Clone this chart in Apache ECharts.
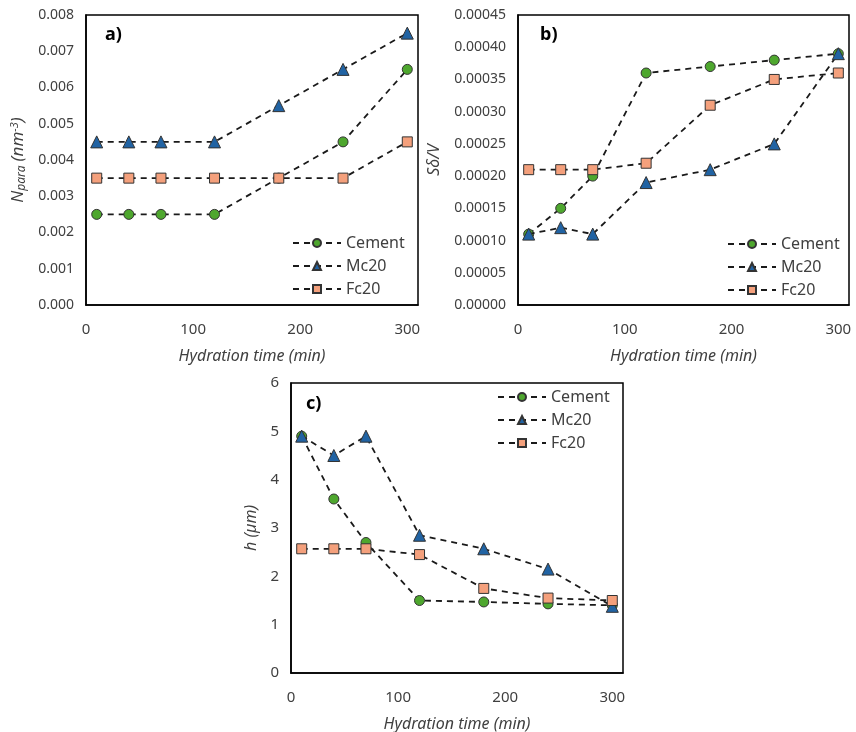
<!DOCTYPE html>
<html lang="en">
<head>
<meta charset="UTF-8">
<title>Hydration charts</title>
<script src="https://cdn.jsdelivr.net/npm/echarts@6/dist/echarts.min.js"></script>
<style>
  html, body { margin: 0; padding: 0; background: #fff; }
  #chart { width: 856px; height: 732px; }
</style>
</head>
<body>
<div id="chart"></div>
<script>
var times = [10, 40, 70, 120, 180, 240, 300];

// a) N_para
var aCement = [0.0025, 0.0025, 0.0025, 0.0025, 0.0035, 0.0045, 0.0065];
var aMc20 = [0.0045, 0.0045, 0.0045, 0.0045, 0.0055, 0.0065, 0.0075];
var aFc20 = [0.0035, 0.0035, 0.0035, 0.0035, 0.0035, 0.0035, 0.0045];

// b) S delta / V
var bCement = [0.00011, 0.00015, 0.00020, 0.00036, 0.00037, 0.00038, 0.00039];
var bMc20 = [0.00011, 0.00012, 0.00011, 0.00019, 0.00021, 0.00025, 0.00039];
var bFc20 = [0.00021, 0.00021, 0.00021, 0.00022, 0.00031, 0.00035, 0.00036];

// c) h
var cCement = [4.9, 3.6, 2.7, 1.5, 1.47, 1.43, 1.4];
var cMc20 = [4.9, 4.5, 4.9, 2.85, 2.57, 2.15, 1.38];
var cFc20 = [2.57, 2.57, 2.57, 2.45, 1.75, 1.55, 1.5];

var names = ['Cement', 'Mc20', 'Fc20'];
var colors = ['#4ea72e', '#2163a3', '#f4a07c'];
var symbols = ['circle', 'triangle', 'rect'];
var sizes = [10, 12, 10];

var FONT = 'Noto Sans';
var labelColor = '#404040';

function pairs(ys) {
  return times.map(function (t, i) { return [t, ys[i]]; });
}

function mkSeries(idx, datasets) {
  return datasets.map(function (d, i) {
    return {
      name: names[i],
      type: 'line',
      xAxisIndex: idx,
      yAxisIndex: idx,
      data: pairs(d),
      symbol: symbols[i],
      symbolSize: sizes[i],
      z: 3 + i,
      lineStyle: { color: '#1a1a1a', width: 1.8, type: [6, 5] },
      itemStyle: { color: colors[i], borderColor: '#333', borderWidth: 1 },
      silent: true,
      animation: false
    };
  });
}

function xAx(idx) {
  return {
    type: 'value', gridIndex: idx, min: 0, max: 310, interval: 100,
    axisLine: { show: true, lineStyle: { color: '#000', width: 1.5 } },
    axisTick: { show: false },
    splitLine: { show: false },
    axisLabel: {
      color: labelColor, fontFamily: FONT, fontSize: 15, margin: 17,
      formatter: function (v) { return v % 100 === 0 ? String(v) : ''; }
    },
    name: 'Hydration time (min)',
    nameLocation: 'middle',
    nameGap: 43,
    nameTextStyle: { color: labelColor, fontFamily: FONT, fontSize: 16, fontStyle: 'italic' }
  };
}

function yAx(idx, max, interval, decimals, name, rich, gap, fs) {
  return {
    type: 'value', gridIndex: idx, min: 0, max: max, interval: interval,
    axisLine: { show: true, lineStyle: { color: '#000', width: 1.5 } },
    axisTick: { show: false },
    splitLine: { show: false },
    axisLabel: {
      color: labelColor, fontFamily: FONT, fontSize: fs, margin: 12,
      formatter: function (v) { return decimals === 0 ? String(Math.round(v)) : v.toFixed(decimals); }
    },
    name: name,
    nameLocation: 'middle',
    nameGap: gap,
    nameRotate: 90,
    nameTextStyle: { color: labelColor, fontFamily: FONT, fontSize: 16, fontStyle: 'italic', rich: rich }
  };
}

var gridBox = { show: true, borderColor: '#000', borderWidth: 1.5, containLabel: false, outerBoundsMode: 'none' };
var grids = [
  Object.assign({ left: 86, top: 15, width: 332, height: 290 }, gridBox),
  Object.assign({ left: 518, top: 15, width: 331, height: 290 }, gridBox),
  Object.assign({ left: 291, top: 383, width: 332, height: 290 }, gridBox)
];

var richA = {
  it: { fontFamily: FONT, fontSize: 17, fontStyle: 'italic', color: labelColor },
  sub: { fontFamily: FONT, fontSize: 12, fontStyle: 'italic', color: labelColor, verticalAlign: 'bottom', padding: [7, 0, 0, 0] },
  sup: { fontFamily: FONT, fontSize: 11, fontStyle: 'italic', color: labelColor, verticalAlign: 'top', padding: [0, 0, 7, 0] }
};

function legendFor(left, top) {
  return {
    left: left, top: top, orient: 'vertical', itemGap: 7,
    itemWidth: 48, itemHeight: 10,
    textStyle: { color: labelColor, fontFamily: FONT, fontSize: 16 },
    data: names,
    selectedMode: false
  };
}

var chart = echarts.init(document.getElementById('chart'), null, { renderer: 'canvas' });

var option = {
  backgroundColor: '#fff',
  animation: false,
  grid: grids,
  xAxis: [xAx(0), xAx(1), xAx(2)],
  yAxis: [
    yAx(0, 0.008, 0.001, 3, '{it|N}{sub|para} {it|(nm}{sup|-3}{it|)}', richA, 58, 14),
    yAx(1, 0.00045, 0.00005, 5, 'Sδ/V', {}, 76, 14),
    yAx(2, 6, 1, 0, 'h (µm)', {}, 32, 15)
  ],
  legend: [
    legendFor(287, 230),
    legendFor(722, 231),
    legendFor(492, 384)
  ],
  graphic: [
    { type: 'text', left: 105, top: 26, style: { text: 'a)', font: 'bold 18px "Noto Sans"', fill: '#000' } },
    { type: 'text', left: 540, top: 26, style: { text: 'b)', font: 'bold 18px "Noto Sans"', fill: '#000' } },
    { type: 'text', left: 306, top: 395, style: { text: 'c)', font: 'bold 18px "Noto Sans"', fill: '#000' } }
  ],
  series: [].concat(
    mkSeries(0, [aCement, aMc20, aFc20]),
    mkSeries(1, [bCement, bMc20, bFc20]),
    mkSeries(2, [cCement, cMc20, cFc20])
  )
};

chart.setOption(option);
</script>
</body>
</html>
